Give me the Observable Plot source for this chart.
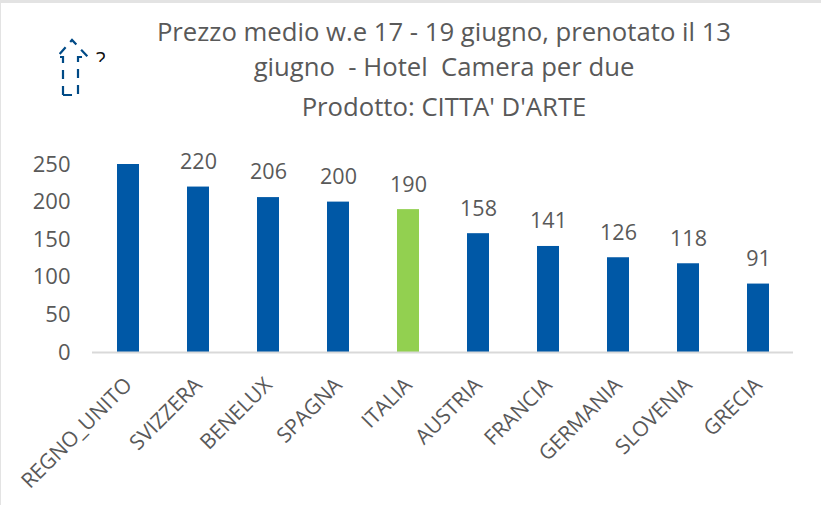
<!DOCTYPE html>
<html><head><meta charset="utf-8">
<script src="https://cdn.jsdelivr.net/npm/d3@7"></script>
<script src="https://cdn.jsdelivr.net/npm/@observablehq/plot@0.6"></script>
<style>
html,body{margin:0;padding:0;background:#fff}
#wrap{position:relative;width:820px;height:502px;border-top:3px solid #e3e3e3;border-left:1px solid #e3e3e3;overflow:hidden;font-family:"Open Sans",sans-serif}
#title{position:absolute;left:0;top:0;width:820px;height:124px;color:#595959;font-size:25.7px}
#title div{position:absolute;left:143px;width:600px;text-align:center;white-space:pre;line-height:32px}
#chart{position:absolute;left:-2px;top:124px}
#chart svg{display:block;overflow:visible}
#icon{position:absolute;left:0;top:0}
</style></head><body>
<div id="wrap">
<div id="title"></div>
<div id="chart"></div>
<svg id="icon" width="120" height="110">
<path d="M62 92V54H56L71 37L87 54H77V92Z" fill="none" stroke="#004a86" stroke-width="2.2" stroke-dasharray="9 7"/>
<text x="95" y="65" font-size="22" fill="#111" clip-path="inset(0 0 12px 0)" style="font-family:'Open Sans'">?</text>
</svg>
</div>
<script>
const titleLines = ["Prezzo medio w.e 17 - 19 giugno, prenotato il 13", "giugno  - Hotel  Camera per due", "Prodotto: CITTA' D'ARTE"];
const titleTops = [13, 48, 88];
const countries = ["REGNO_UNITO","SVIZZERA","BENELUX","SPAGNA","ITALIA","AUSTRIA","FRANCIA","GERMANIA","SLOVENIA","GRECIA"];
const prices = [250,220,206,200,190,158,141,126,118,91];
const labelled = [false,true,true,true,true,true,true,true,true,true];
const barColors = ["#0058a6","#0058a6","#0058a6","#0058a6","#92d050","#0058a6","#0058a6","#0058a6","#0058a6","#0058a6"];
const yTicks = [0,50,100,150,200,250];

const title = document.getElementById("title");
titleLines.forEach((t,i)=>{
  const d = document.createElement("div");
  d.textContent = t; d.style.top = titleTops[i]+"px";
  title.appendChild(d);
});

const rows = countries.map((c,i)=>({c, v:prices[i], col:barColors[i], lab:labelled[i]}));
const font = '"Open Sans",sans-serif';
const chart = Plot.plot({
  width: 821, height: 378,
  marginTop: 37, marginBottom: 153, marginLeft: 93, marginRight: 27,
  style: {fontFamily: font, background: "transparent", overflow: "visible"},
  x: {domain: countries, paddingInner: 0.686, paddingOuter: 0.343, align: 0.5, label: null},
  y: {domain: [0,250], label: null},
  marks: [
    Plot.barY(rows, {x:"c", y:"v", fill:d=>d.col}),
    Plot.ruleY([0], {stroke:"#d9d9d9", strokeWidth:2}),
    Plot.text(rows.filter(d=>d.lab), {x:"c", y:"v", text:d=>String(d.v), dy:-25, fontSize:21.5, fill:"#595959", fontFamily:font}),
    Plot.axisY({ticks:yTicks, tickSize:0, tickPadding:22, fontSize:22, fill:"#595959", label:null, fontFamily:font}),
    Plot.axisX({tickSize:0, tickPadding:29, tickRotate:-45, fontSize:21, fill:"#595959", label:null, fontFamily:font})
  ]
});
document.getElementById("chart").appendChild(chart);
</script>
</body></html>
